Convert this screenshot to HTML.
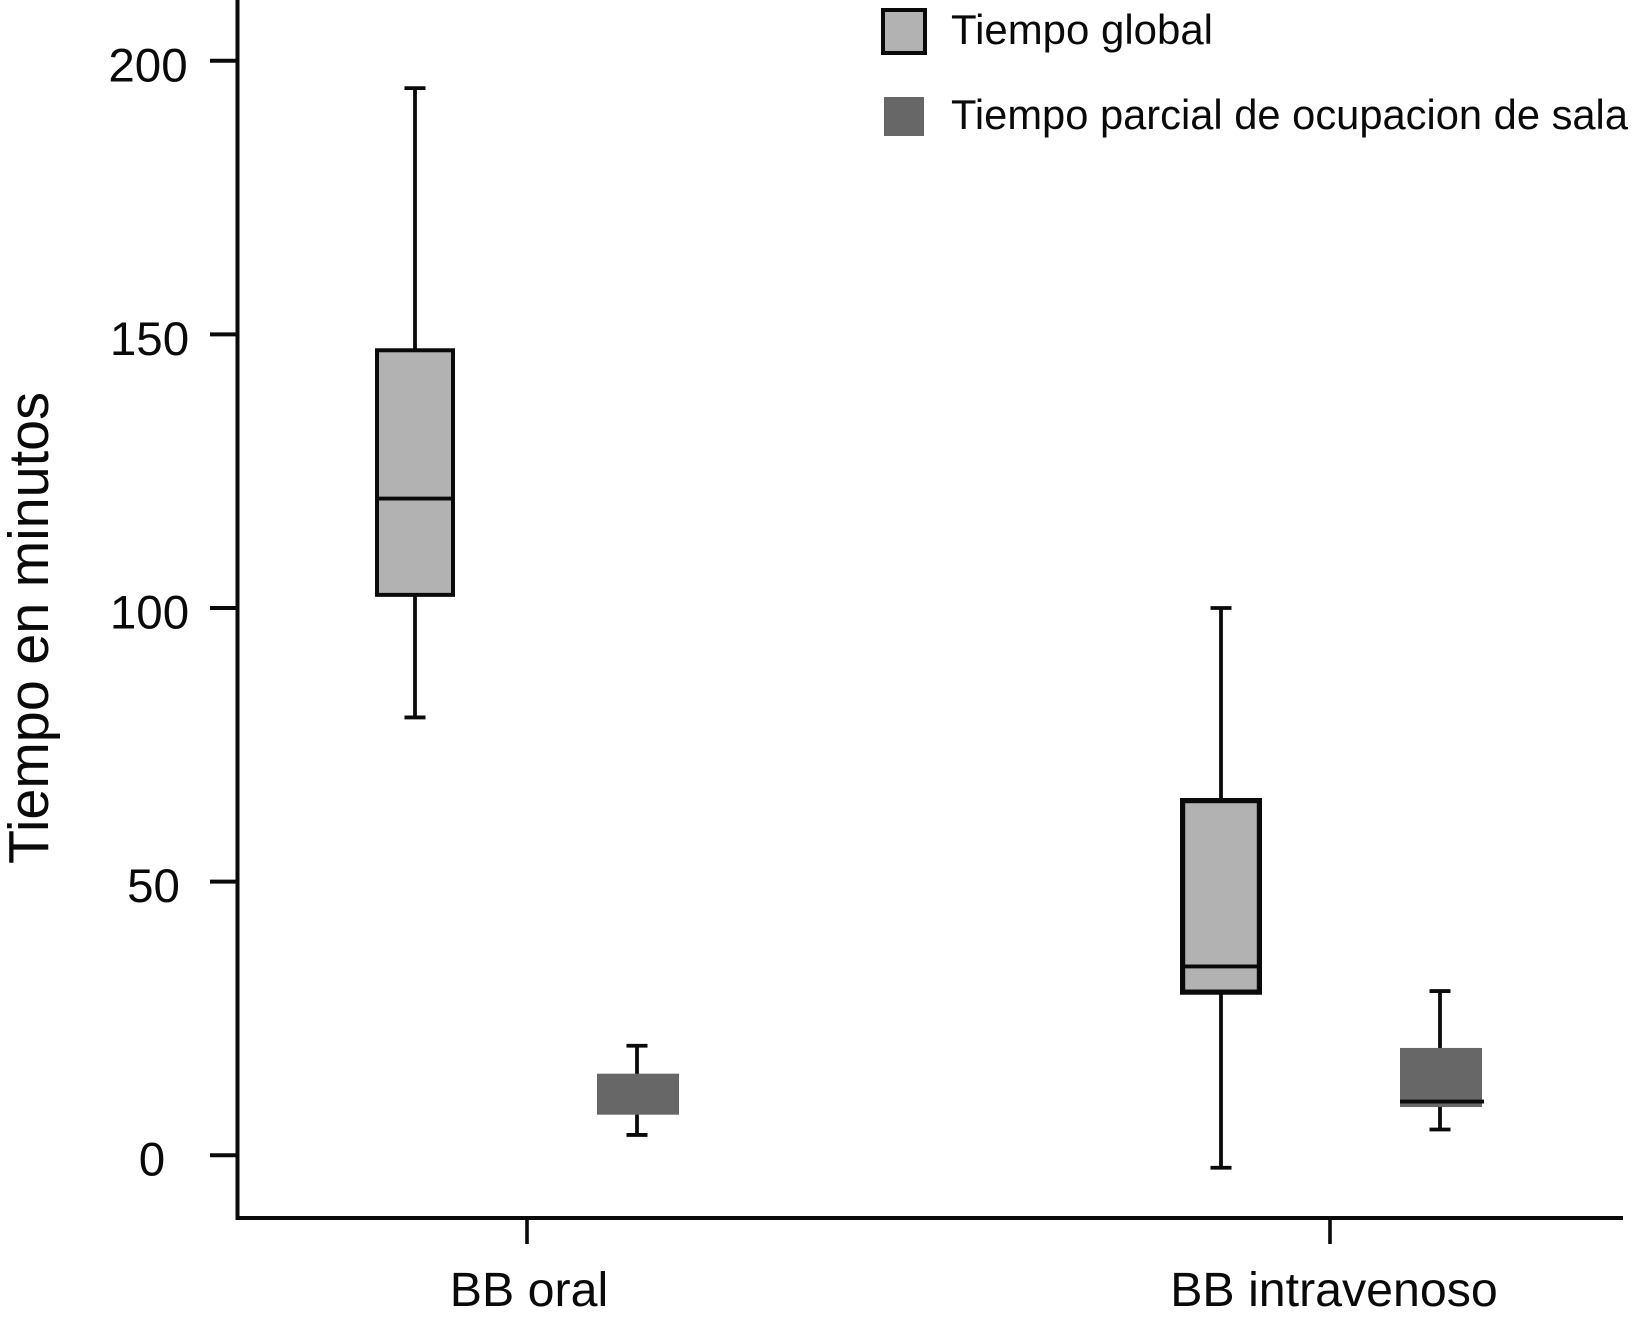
<!DOCTYPE html>
<html lang="es">
<head>
<meta charset="utf-8">
<title>Tiempo en minutos</title>
<style>
html,body{margin:0;padding:0;background:#fff;}
svg{display:block;}
text{font-family:"Liberation Sans",Arial,sans-serif;fill:#0a0a0a;}
</style>
</head>
<body>
<svg id="chart" xmlns="http://www.w3.org/2000/svg" width="1632" height="1319" viewBox="0 0 1632 1319">
  <rect x="0" y="0" width="1632" height="1319" fill="#fff"/>
  <text transform="translate(48,864) rotate(-90)" font-size="56.5" textLength="472" lengthAdjust="spacingAndGlyphs">Tiempo en minutos</text>
  <g>
    <rect x="883" y="10" width="42" height="43" fill="#b2b2b2" stroke="#0a0a0a" stroke-width="4"/>
    <text x="951" y="44" font-size="41.8" textLength="262" lengthAdjust="spacingAndGlyphs">Tiempo global</text>
    <rect x="884" y="97" width="40" height="39" fill="#676767"/>
    <text x="951" y="129" font-size="41.8" textLength="677" lengthAdjust="spacingAndGlyphs">Tiempo parcial de ocupacion de sala</text>
  </g>
</svg>
<script>
// Chart data
const categories = ["BB oral", "BB intravenoso"];
const yTickValues = [0, 50, 100, 150, 200];
const yTickLabels = ["0", "50", "100", "150", "200"];

// Tiempo global
const globalLow = [80, -2.3];
const globalQ1 = [102.4, 29.8];
const globalMedian = [120, 34.5];
const globalQ3 = [147.1, 64.8];
const globalHigh = [195, 100];

// Tiempo parcial de ocupacion de sala
const parcialLow = [3.7, 4.7];
const parcialQ1 = [7.4, 8.8];
const parcialMedian = [null, 9.8];
const parcialQ3 = [14.9, 19.6];
const parcialHigh = [20, 30];

// Axis functions
function yScale(v) { return 1155.2 - 5.472 * v; }
function xScale(i) { return 527 + 803 * i; }

const NS = "http://www.w3.org/2000/svg";
const INK = "#0a0a0a";
const svg = document.getElementById("chart");

function make(tag, attrs) {
  const el = document.createElementNS(NS, tag);
  for (const k in attrs) el.setAttribute(k, attrs[k]);
  svg.appendChild(el);
  return el;
}

// Axes
const yAxisLine = make("line", { x1: 237.5, x2: 237.5, y1: 0, y2: 1220, stroke: INK, "stroke-width": 4 });



const xAxisLine = make("line", { x1: 236, x2: 1623, y1: 1218, y2: 1218, stroke: INK, "stroke-width": 4 });



// Label placement (pixels, not data)
const yLabelCenters = [152, 153.5, 149.5, 149.5, 148];
const xLabelNudges = [2, 4];

yTickValues.forEach(function (v, i) {
  const y = yScale(v);
  const tick = make("line", { x1: 210, x2: 237, y1: y, y2: y, stroke: INK, "stroke-width": 4 });
  
  
  const label = make("text", { x: yLabelCenters[i], y: y + 20.5, "font-size": 47.5, "text-anchor": "middle" });
  label.textContent = yTickLabels[i];
  
  
});

categories.forEach(function (name, i) {
  const x = xScale(i);
  const tick = make("line", { x1: x, x2: x, y1: 1219, y2: 1244, stroke: INK, "stroke-width": 3.6 });
  
  
  const label = make("text", { x: x + xLabelNudges[i], y: 1306, "font-size": 48.3, "text-anchor": "middle" });
  label.textContent = name;
  
  
});

// Layout of the dodged boxes (pixels, not data)
const globalOffsets = [-112, -109];
const globalStrokes = [4, 5.2];
const globalOuterWidths = [80, 82];
const parcialOffsets = [111, 111];
const parcialWidth = 82;
const capHalf = 10.5;

function drawBox(cx, boxCx, boxW, low, q1, median, q3, high, fill, stroke) {
  const whisker = make("line", { x1: cx, x2: cx, y1: yScale(high), y2: yScale(low), stroke: INK, "stroke-width": 3.8 });
  
  

  const capTop = make("line", { x1: cx - capHalf, x2: cx + capHalf, y1: yScale(high), y2: yScale(high), stroke: INK, "stroke-width": 3.8 });
  
  

  const capLow = make("line", { x1: cx - capHalf, x2: cx + capHalf, y1: yScale(low), y2: yScale(low), stroke: INK, "stroke-width": 3.8 });
  
  

  const box = make("rect", {
    x: boxCx - boxW / 2,
    y: yScale(q3),
    width: boxW,
    height: yScale(q1) - yScale(q3),
    fill: fill,
    stroke: stroke ? INK : "none",
    "stroke-width": stroke || 0
  });
  
  

  if (median !== null) {
    const med = make("line", { x1: boxCx - boxW / 2, x2: boxCx + boxW / 2 + (stroke ? 0 : 2), y1: yScale(median), y2: yScale(median), stroke: INK, "stroke-width": 3.8 });
    
    
  }
}

categories.forEach(function (name, i) {
  const gx = xScale(i) + globalOffsets[i];
  drawBox(gx, gx, globalOuterWidths[i] - globalStrokes[i], globalLow[i], globalQ1[i], globalMedian[i], globalQ3[i], globalHigh[i], "#b2b2b2", globalStrokes[i]);
  const px = xScale(i) + parcialOffsets[i];
  drawBox(px - 1, px, parcialWidth, parcialLow[i], parcialQ1[i], parcialMedian[i], parcialQ3[i], parcialHigh[i], "#676767", 0);
});
</script>
</body>
</html>
